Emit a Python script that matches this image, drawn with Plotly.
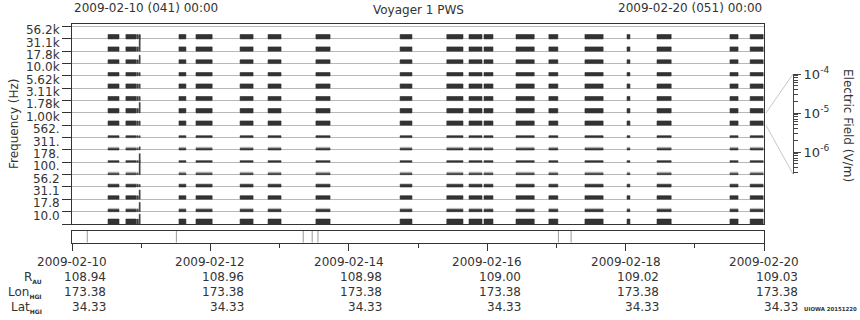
import pandas as pd
import plotly.graph_objects as go

W, H = 860, 320
T0 = pd.Timestamp("2009-02-10 00:00")
T1 = pd.Timestamp("2009-02-20 00:00")

# ---------------- data ----------------
channel_labels = ["10.0", "17.8", "31.1", "56.2", "100.", "178.", "311.", "562.",
                  "1.00k", "1.78k", "3.11k", "5.62k", "10.0k", "17.8k", "31.1k", "56.2k"]

# observation segments (hours after 2009-02-10 00:00)
seg_start_h = [12.5, 18.7, 22.45, 22.95, 37.1, 43.0, 58.3, 68.0, 84.6, 113.8,
               130.0, 137.7, 142.9, 154.0, 165.4, 177.9, 192.5, 202.9, 228.2, 235.2]
seg_end_h = [16.3, 22.2, 22.75, 23.2, 39.5, 48.6, 62.8, 72.5, 89.5, 117.9,
             135.6, 142.2, 146.0, 160.3, 168.5, 184.2, 193.5, 207.8, 231.0, 239.7]

# amplitude level of each channel, as a fraction of its strip (bottom channel first)
level_dark = [0.40, 0.17, 0.28, 0.20, 0.10, 0.13, 0.12, 0.15,
              0.35, 0.35, 0.33, 0.35, 0.27, 0.30, 0.35, 0.35]
level_light = [0.40, 0.27, 0.30, 0.26, 0.22, 0.13, 0.23, 0.15,
               0.35, 0.35, 0.33, 0.35, 0.27, 0.30, 0.35, 0.35]

# short burst
spike_start_h = 23.3
spike_end_h = 23.65
spike_level = [0.80, 0.75, 0.75, 0.20, 1.70, 0.13, 0.25, 0.15,
               0.35, 0.85, 0.33, 0.35, 0.27, 0.68, 1.30, 0.35]

# markers in the lower strip (hours)
event_h = [5.3, 36.2, 80.2, 83.3, 85.3, 168.7, 173.1]

tick_dates = ["2009-02-10", "2009-02-12", "2009-02-14", "2009-02-16", "2009-02-18", "2009-02-20"]
r_au = ["108.94", "108.96", "108.98", "109.00", "109.02", "109.03"]
lon_hgi = ["173.38", "173.38", "173.38", "173.38", "173.38", "173.38"]
lat_hgi = ["34.33", "34.33", "34.33", "34.33", "34.33", "34.33"]

efield_ticks = [1e-6, 1e-5, 1e-4]
efield_ticktext = ["10<sup>-6</sup>", "10<sup>-5</sup>", "10<sup>-4</sup>"]
efield_range_log = [-6.56, -4.0]
connect_band = 8

# ---------------- layout geometry (pixels -> paper) ----------------
def px(x):
    return x / W


def py(y):
    return 1 - y / H


xdom = [px(72), px(764)]
ydom = [py(224), py(23.7)]
yr = [0, 16.23]
y2dom = [py(242.7), py(231)]
x3dom = [px(786), px(793)]
y3dom = [py(174), py(74)]

FONT = "DejaVu Sans"
TXT = "#333333"


def hours(h):
    return T0 + pd.Timedelta(hours=h)


def rects(levels, segs):
    xs, ys = [], []
    for b, lev in enumerate(levels):
        for s, e in segs:
            ts, te = hours(s), hours(e)
            xs += [ts, ts, te, te, ts, None]
            ys += [b, b + lev, b + lev, b, b, None]
    return xs, ys


segs = list(zip(seg_start_h, seg_end_h))
fig = go.Figure()

lx, ly = rects(level_light, segs)
fig.add_trace(go.Scatter(x=lx, y=ly, mode="lines", fill="toself", fillcolor="#b4b4b4",
                         line=dict(width=0.5, color="#b4b4b4"), hoverinfo="skip",
                         showlegend=False, xaxis="x", yaxis="y"))
dx, dy = rects(level_dark, segs)
sx, sy = rects(spike_level, [(spike_start_h, spike_end_h)])
fig.add_trace(go.Scatter(x=dx + sx, y=dy + sy, mode="lines", fill="toself", fillcolor="#333333",
                         line=dict(width=0.5, color="#333333"), hoverinfo="skip",
                         showlegend=False, xaxis="x", yaxis="y"))

ex, ey = [], []
for h in event_h:
    ex += [hours(h), hours(h), None]
    ey += [0, 1, None]
fig.add_trace(go.Scatter(x=ex, y=ey, mode="lines", line=dict(width=1, color="#999999"),
                         hoverinfo="skip", showlegend=False, xaxis="x2", yaxis="y2"))

fig.add_trace(go.Scatter(x=[None], y=[None], mode="markers", showlegend=False,
                         hoverinfo="skip", xaxis="x3", yaxis="y3"))

fig.update_layout(
    width=W, height=H,
    margin=dict(l=0, r=0, t=0, b=0, autoexpand=False),
    paper_bgcolor="white", plot_bgcolor="white",
    font=dict(family=FONT, size=12, color=TXT),
    showlegend=False,
    xaxis=dict(domain=xdom, type="date", range=[T0, T1], anchor="y",
               showline=True, mirror=True, linecolor="#333333", linewidth=1,
               ticks="", showticklabels=False, showgrid=False, zeroline=False),
    yaxis=dict(domain=ydom, range=yr, anchor="x",
               tickmode="array", tickvals=[i + 0.7 for i in range(16)], ticktext=channel_labels,
               ticks="outside", ticklen=9, tickcolor="rgba(0,0,0,0)",
               tickfont=dict(size=12, color=TXT),
               showgrid=False, zeroline=False,
               showline=True, mirror=True, linecolor="#333333", linewidth=1,
               minor=dict(tickmode="linear", tick0=0, dtick=1, ticks="outside", ticklen=9,
                          tickcolor="#333333", showgrid=True, gridcolor="#b8b8b8", gridwidth=1)),
    xaxis2=dict(domain=xdom, type="date", range=[T0, T1], anchor="y2", matches="x",
                showline=True, mirror=True, linecolor="#333333", linewidth=1,
                tickmode="linear", tick0=T0, dtick=2 * 86400000,
                ticks="outside", ticklen=7, tickcolor="#333333",
                showticklabels=False, showgrid=False, zeroline=False,
                minor=dict(tickmode="linear", tick0=T0, dtick=86400000, ticks="outside",
                           ticklen=4, tickcolor="#333333", showgrid=False)),
    yaxis2=dict(domain=y2dom, range=[0, 1], anchor="x2", showline=True, mirror=True,
                linecolor="#333333", linewidth=1, ticks="", showticklabels=False,
                showgrid=False, zeroline=False),
    xaxis3=dict(domain=x3dom, anchor="y3", visible=False, range=[0, 1]),
    yaxis3=dict(domain=y3dom, anchor="x3", side="right", type="log", range=efield_range_log,
                tickmode="array", tickvals=efield_ticks, ticktext=efield_ticktext,
                ticks="outside", ticklen=7, tickcolor="#444444",
                tickfont=dict(size=13, color=TXT),
                showline=True, linecolor="#444444", linewidth=1, showgrid=False, zeroline=False,
                minor=dict(tickmode="array",
                           tickvals=[k * 10.0 ** e for e in (-7, -6, -5) for k in range(2, 10)
                                     if k * 10.0 ** e >= 10 ** efield_range_log[0]],
                           ticks="outside", ticklen=4, tickcolor="#444444", showgrid=False)),
)


def yp(v):
    return ydom[0] + (v - yr[0]) / (yr[1] - yr[0]) * (ydom[1] - ydom[0])


fig.add_shape(type="line", xref="paper", yref="paper", x0=xdom[1] + px(2), y0=yp(connect_band + 1),
              x1=x3dom[1], y1=y3dom[1], line=dict(color="#c8c8c8", width=1))
fig.add_shape(type="line", xref="paper", yref="paper", x0=xdom[1] + px(2), y0=yp(connect_band),
              x1=x3dom[1], y1=y3dom[0], line=dict(color="#c8c8c8", width=1))

ann = []
ann.append(dict(text="2009-02-10 (041) 00:00", x=xdom[0], y=py(8), xref="paper", yref="paper",
                xanchor="left", yanchor="middle", showarrow=False, font=dict(size=12, color=TXT)))
ann.append(dict(text="Voyager 1 PWS", x=(xdom[0] + xdom[1]) / 2, y=py(10), xref="paper", yref="paper",
                xanchor="center", yanchor="middle", showarrow=False, font=dict(size=12, color=TXT)))
ann.append(dict(text="2009-02-20 (051) 00:00", x=xdom[1], y=py(8), xref="paper", yref="paper",
                xanchor="right", yanchor="middle", showarrow=False, font=dict(size=12, color=TXT)))
ann.append(dict(text="Frequency (Hz)", x=px(14), y=py(124), xref="paper", yref="paper",
                xanchor="center", yanchor="middle", textangle=-90, showarrow=False,
                font=dict(size=12, color=TXT)))
ann.append(dict(text="Electric Field (V/m)", x=px(848), y=py(125), xref="paper", yref="paper",
                xanchor="center", yanchor="middle", textangle=90, showarrow=False,
                font=dict(size=12, color=TXT)))

rows_y = [262, 277, 292, 307]
for i, d in enumerate(tick_dates):
    ann.append(dict(text=d, x=d, y=py(rows_y[0]), xref="x2", yref="paper", xanchor="center",
                    yanchor="middle", showarrow=False, font=dict(size=12, color=TXT)))
    for r, vals in enumerate([r_au, lon_hgi, lat_hgi]):
        ann.append(dict(text=vals[i], x=d, y=py(rows_y[r + 1]), xref="x2", yref="paper",
                        xanchor="right", xshift=35.5, yanchor="middle", showarrow=False,
                        font=dict(size=12, color=TXT)))

sub = '<sub><span style="font-size:6px;font-weight:bold">%s</span></sub>'
for r, lab in enumerate(["R" + sub % "AU", "Lon" + sub % "HGI", "Lat" + sub % "HGI"]):
    ann.append(dict(text=lab, x=px(44), y=py(rows_y[r + 1]), xref="paper", yref="paper",
                    xanchor="right", yanchor="middle", showarrow=False, font=dict(size=12, color=TXT)))

ann.append(dict(text="<b>UIOWA 20151220</b>", x=px(859), y=py(309), xref="paper", yref="paper",
                xanchor="right", yanchor="middle", showarrow=False, font=dict(size=5.4, color=TXT)))

fig.update_layout(annotations=ann)
fig.write_html("out.html")
